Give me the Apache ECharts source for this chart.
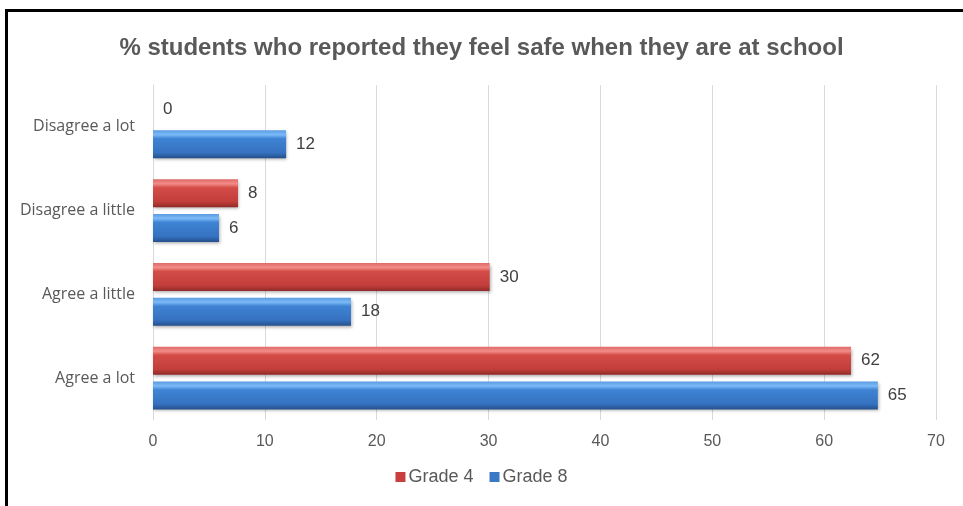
<!DOCTYPE html>
<html><head><meta charset="utf-8">
<script src="https://cdn.jsdelivr.net/npm/echarts@6/dist/echarts.min.js"></script>
<style>html,body{margin:0;padding:0;background:#fff}#c{width:963px;height:506px}</style>
</head><body><div id="c"></div>
<script>
const categories = ["Agree a lot", "Agree a little", "Disagree a little", "Disagree a lot"];
const grade4 = [62.4, 30.1, 7.6, 0];
const grade8 = [64.8, 17.7, 5.9, 11.9];
const grade4Labels = [62, 30, 8, 0];
const grade8Labels = [65, 18, 6, 12];
const xTicks = [0, 10, 20, 30, 40, 50, 60, 70];
const title = "% students who reported they feel safe when they are at school";

const chart = echarts.init(document.getElementById('c'), null, {renderer: 'canvas'});
function grad(c0, c1, c2, c3, c4) {
  return new echarts.graphic.LinearGradient(0, 0, 0, 1, [
    {offset: 0, color: c0}, {offset: 0.16, color: c1}, {offset: 0.3, color: c2},
    {offset: 0.8, color: c3}, {offset: 1, color: c4}]);
}
const redFill = grad('#e06a66', '#f28c88', '#d44c48', '#c23e3b', '#8f2a28');
const blueFill = grad('#5a9be2', '#7cbaf7', '#3f83d4', '#3572c0', '#254f8c');
const labelStyle = {show: true, position: 'right', distance: 10, fontFamily: 'Liberation Sans, Arial', fontSize: 17, color: '#404040'};
const shadow = {shadowBlur: 3, shadowOffsetY: 2, shadowOffsetX: 1, shadowColor: 'rgba(0,0,0,0.3)'};
chart.setOption({
  animation: false,
  title: {text: title, left: 'center', top: 31, textStyle: {fontFamily: 'Liberation Sans, Arial, sans-serif', fontWeight: 'bold', fontSize: 24, color: '#595959'}},
  graphic: [{type: 'rect', shape: {x: 6.5, y: 10.5, width: 1100, height: 700}, style: {fill: 'none', stroke: '#000', lineWidth: 3}, silent: true}],
  grid: {left: 153, right: 27, top: 85, bottom: 86},
  legend: {bottom: 15, left: 'center', itemWidth: 10, itemHeight: 10, itemGap: 16, data: [
    {name: 'Grade 4', icon: 'rect', itemStyle: {color: '#c8403d'}},
    {name: 'Grade 8', icon: 'rect', itemStyle: {color: '#3a78c6'}}],
    textStyle: {fontFamily: 'Liberation Sans, Arial', fontSize: 18, color: '#595959', padding: [0,0,0,-2]}},
  xAxis: {type: 'value', min: 0, max: 70, interval: 10,
    axisLine: {show: false}, axisTick: {show: false},
    splitLine: {lineStyle: {color: '#d9d9d9', width: 1}},
    axisLabel: {fontFamily: 'Liberation Sans, Arial', fontSize: 16, color: '#595959', margin: 14,
      formatter: v => xTicks.includes(v) ? String(v) : ''}},
  yAxis: {type: 'category', data: categories,
    axisLine: {show: true, lineStyle: {color: '#d9d9d9'}}, axisTick: {show: false},
    axisLabel: {fontFamily: 'Open Sans, sans-serif', fontSize: 16, color: '#595959', margin: 18}},
  series: [
    {name: 'Grade 4', type: 'bar', data: grade4, barWidth: 28, barGap: '24%',
      itemStyle: Object.assign({color: redFill}, shadow),
      label: Object.assign({}, labelStyle, {formatter: p => String(grade4Labels[p.dataIndex])})},
    {name: 'Grade 8', type: 'bar', data: grade8, barWidth: 28, barGap: '24%',
      itemStyle: Object.assign({color: blueFill}, shadow),
      label: Object.assign({}, labelStyle, {formatter: p => String(grade8Labels[p.dataIndex])})}
  ]
});
</script></body></html>
